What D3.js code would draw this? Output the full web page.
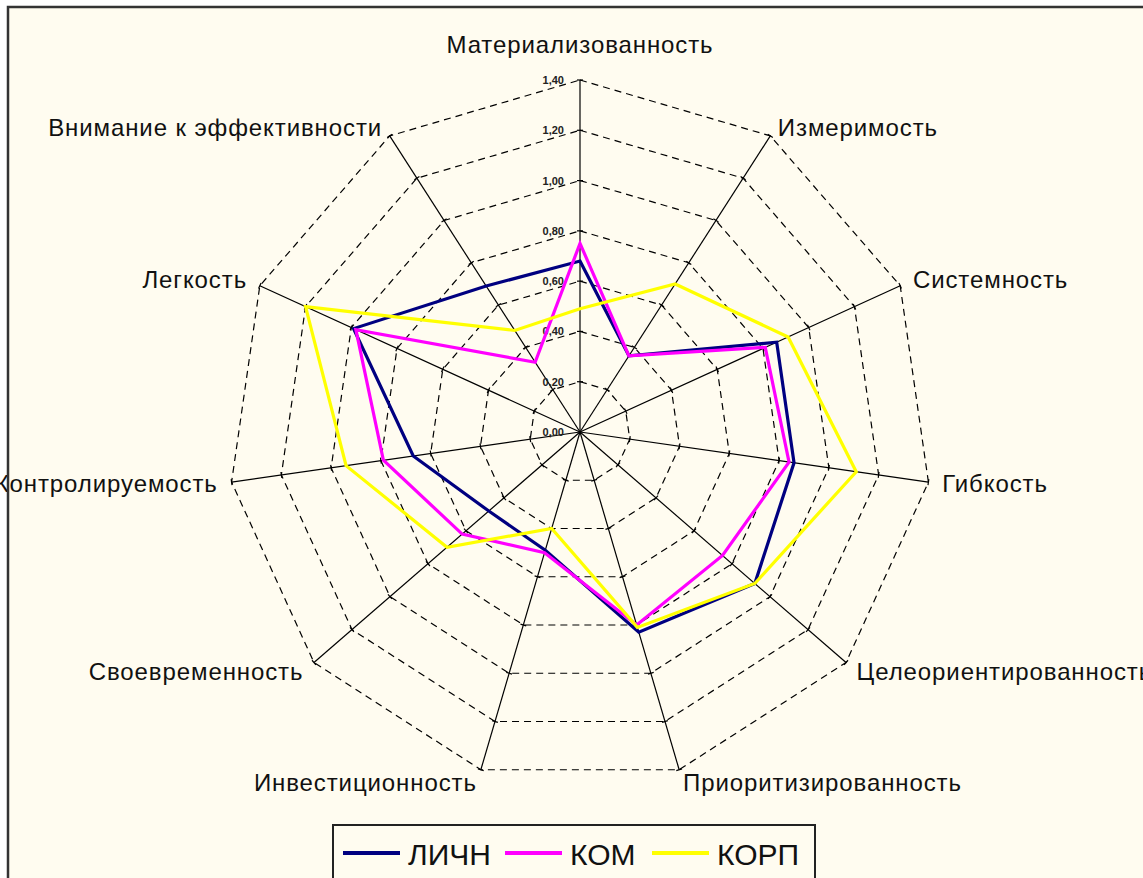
<!DOCTYPE html>
<html><head><meta charset="utf-8">
<script src="https://cdn.jsdelivr.net/npm/d3@7"></script>
<style>html,body{margin:0;padding:0;background:#fff;}svg{display:block;}</style>
</head><body>
<svg id="chart" width="1143" height="878"></svg>
<script>
const axes = ["Материализованность","Измеримость","Системность","Гибкость","Целеориентированность","Приоритизированность","Инвестиционность","Своевременность","Контролируемость","Легкость","Внимание к эффективности"];
const seriesNames = ["ЛИЧН","КОМ","КОРП"];
const lichn = [0.68,0.36,0.86,0.86,0.92,0.83,0.49,0.48,0.67,0.99,0.69];
const kom   = [0.75,0.36,0.81,0.84,0.75,0.80,0.50,0.62,0.79,0.98,0.33];
const korp  = [0.49,0.70,0.91,1.11,0.92,0.81,0.40,0.70,0.94,1.20,0.48];
const ticks = [0,0.2,0.4,0.6,0.8,1.0,1.2,1.4];
const tickLabels = ["0,00","0,20","0,40","0,60","0,80","1,00","1,20","1,40"];
const colors = ["#000080","#ff00ff","#ffff00"];

const svg = d3.select("#chart");
const cx = 580, cy = 432, R = 352;
const r = d3.scaleLinear().domain([0,1.4]).range([0,R]);
const n = axes.length;
const ang = d3.scaleLinear().domain([0,n]).range([0,2*Math.PI]);
const px = (i,v)=> cx + r(v)*Math.sin(ang(i));
const py = (i,v)=> cy - r(v)*Math.cos(ang(i));

// background
svg.append("rect").attr("x",8).attr("y",7).attr("width",1300).attr("height",1000).attr("fill","#fffcf0");

const g = svg.append("g");
// dashed rings
ticks.slice(1).forEach(t=>{
  const pts = d3.range(n).map(i=>[px(i,t),py(i,t)]);
  g.append("path").attr("d", d3.line()(pts)+"Z")
   .attr("fill","none").attr("stroke","#000").attr("stroke-width",1.2).attr("stroke-dasharray","7,5");
});
// axes
d3.range(n).forEach(i=>{
  g.append("line").attr("x1",cx).attr("y1",cy).attr("x2",px(i,1.4)).attr("y2",py(i,1.4))
   .attr("stroke","#000").attr("stroke-width",1.2);
  ticks.slice(1).forEach(t=>{
    const a = ang(i), x = px(i,t), y = py(i,t);
    const ux = Math.cos(a)*3, uy = Math.sin(a)*3;
    g.append("line").attr("x1",x-ux).attr("y1",y-uy).attr("x2",x+ux).attr("y2",y+uy)
     .attr("stroke","#000").attr("stroke-width",1.2);
  });
});
// tick labels
ticks.forEach((t,k)=>{
  g.append("text").attr("x",cx-16).attr("y",cy - r(t)+4).attr("text-anchor","end")
   .attr("font-family","Liberation Sans, Arial, sans-serif").attr("font-size",11).attr("font-weight","bold")
   .attr("fill","#222").text(tickLabels[k]);
});
// axis labels
axes.forEach((name,i)=>{
  const s = Math.sin(ang(i)), c = Math.cos(ang(i));
  const x = cx + (R+14)*s, y = cy - (R+14)*c;
  const anchor = s>0.1 ? "start" : (s<-0.1 ? "end" : "middle");
  const dy = (c>0.99) ? -13 : (c>0.5 ? 12 : 8);
  g.append("text").attr("x",x).attr("y",y+dy).attr("text-anchor",anchor)
   .attr("font-family","Liberation Sans, Arial, sans-serif").attr("font-size",24)
   .attr("letter-spacing","0.9px")
   .attr("fill","#111").text(name);
});
// series
const radial = d3.lineRadial().angle((d,i)=>ang(i)).radius(d=>r(d)).curve(d3.curveLinearClosed);
[lichn,kom,korp].forEach((data,k)=>{
  g.append("path").attr("transform",`translate(${cx},${cy})`).attr("d",radial(data))
   .attr("fill","none").attr("stroke",colors[k]).attr("stroke-width",3.2).attr("stroke-linejoin","miter");
});
// legend
const lg = svg.append("g");
lg.append("rect").attr("x",333).attr("y",825).attr("width",482).attr("height",80)
  .attr("fill","#fffcf0").attr("stroke","#222").attr("stroke-width",2);
const legX = [343,505,652];
seriesNames.forEach((nm,k)=>{
  lg.append("line").attr("x1",legX[k]).attr("x2",legX[k]+57).attr("y1",853).attr("y2",853)
    .attr("stroke",colors[k]).attr("stroke-width",4);
  lg.append("text").attr("x",legX[k]+65).attr("y",865)
    .attr("font-family","Liberation Sans, Arial, sans-serif").attr("font-size",30).attr("fill","#111").text(nm);
});
// frame
svg.append("rect").attr("x",8).attr("y",7).attr("width",1300).attr("height",1000)
  .attr("fill","none").attr("stroke","#333").attr("stroke-width",2.5);
</script>
</body></html>
